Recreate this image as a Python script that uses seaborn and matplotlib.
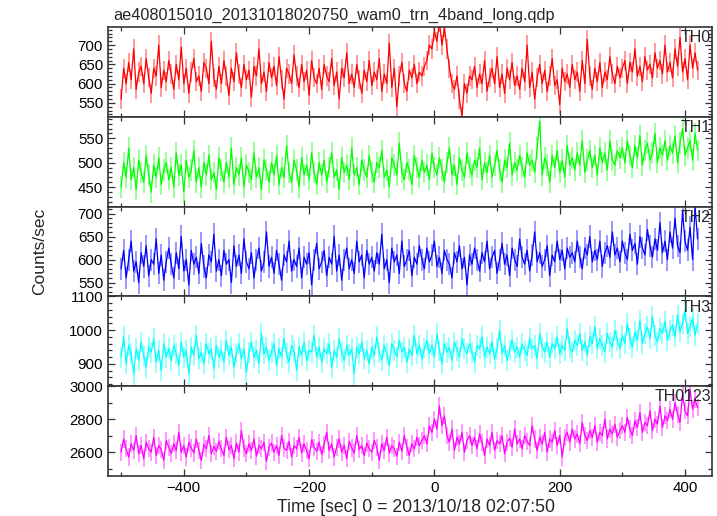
import numpy as np
import matplotlib
matplotlib.use("Agg")
import matplotlib.pyplot as plt
import seaborn as sns
from matplotlib.ticker import MultipleLocator

# light curves, 4 s bins (t = -500 ... 420)
t_start, t_step = -500, 4

th0 = [560, 640, 600, 655, 610, 690, 585, 630, 645, 600, 665, 615, 575, 640, 620, 700, 590, 635, 605, 660,
       625, 585, 650, 610, 695, 600, 640, 575, 630, 665, 605, 620, 580, 655, 640, 600, 710, 615, 585, 645,
       600, 660, 620, 570, 640, 605, 680, 625, 590, 650, 610, 635, 565, 645, 620, 690, 600, 630, 580, 655,
       615, 645, 595, 670, 610, 560, 640, 625, 600, 675, 620, 590, 650, 605, 635, 570, 660, 615, 600, 640,
       585, 650, 620, 605, 665, 595, 630, 560, 640, 615, 680, 600, 625, 590, 650, 610, 575, 635, 605, 660,
       595, 630, 610, 665, 580, 625, 600, 705, 590, 640, 540, 620, 655, 600, 580, 635, 615, 650, 600, 630,
       620, 645, 660, 700, 690, 735, 710, 760, 700, 745, 690, 640, 600, 585, 620, 560, 515, 600, 575, 620,
       610, 645, 590, 625, 600, 660, 580, 615, 640, 600, 670, 590, 625, 575, 640, 610, 655, 595, 620, 585,
       640, 605, 700, 590, 630, 560, 615, 650, 600, 635, 580, 620, 665, 595, 610, 545, 640, 605, 625, 590,
       650, 610, 630, 580, 660, 600, 715, 620, 585, 640, 605, 655, 590, 630, 610, 670, 625, 600, 645, 615,
       640, 660, 600, 655, 630, 690, 620, 645, 605, 670, 635, 650, 615, 680, 640, 660, 625, 700, 630, 655,
       615, 690, 645, 720, 630, 665, 610, 700, 640, 680, 635]

th1 = [450, 500, 470, 530, 465, 490, 445, 505, 480, 460, 515, 475, 440, 495, 470, 510, 455, 485, 500, 465,
       490, 450, 520, 475, 495, 440, 505, 470, 485, 525, 460, 490, 450, 500, 475, 515, 465, 480, 445, 510,
       485, 460, 500, 470, 530, 455, 490, 475, 510, 450, 495, 480, 465, 520, 470, 490, 445, 505, 485, 460,
       500, 475, 515, 455, 490, 470, 535, 480, 460, 505, 485, 450, 510, 475, 495, 465, 520, 480, 455, 500,
       475, 505, 460, 490, 520, 470, 485, 445, 510, 480, 495, 465, 530, 475, 490, 455, 505, 485, 470, 515,
       480, 460, 500, 490, 525, 470, 485, 450, 510, 495, 475, 540, 480, 465, 500, 485, 455, 515, 490, 470,
       505, 480, 495, 465, 520, 490, 475, 510, 485, 460, 500, 530, 475, 495, 455, 510, 485, 470, 520, 490,
       475, 505, 490, 530, 465, 500, 480, 515, 470, 495, 525, 485, 460, 505, 490, 540, 475, 500, 485, 515,
       490, 470, 520, 495, 505, 480, 530, 585, 475, 510, 495, 460, 515, 490, 525, 480, 505, 470, 535, 495,
       510, 485, 520, 495, 545, 480, 505, 525, 490, 515, 475, 530, 500, 520, 485, 545, 505, 495, 525, 510,
       530, 500, 545, 515, 490, 535, 510, 555, 495, 525, 540, 505, 520, 560, 500, 530, 515, 545, 505, 535,
       520, 555, 500, 540, 570, 515, 530, 545, 505, 560, 525]

th2 = [580, 620, 560, 600, 640, 575, 595, 550, 615, 585, 630, 565, 600, 590, 645, 570, 610, 555, 595, 625,
       590, 560, 615, 580, 650, 575, 600, 545, 620, 590, 605, 570, 635, 585, 560, 610, 595, 655, 575, 600,
       565, 620, 590, 600, 550, 630, 585, 610, 570, 645, 595, 580, 615, 560, 600, 625, 575, 595, 660, 585,
       605, 570, 620, 590, 555, 610, 595, 640, 575, 600, 585, 625, 560, 605, 590, 615, 545, 600, 635, 580,
       595, 620, 565, 605, 590, 650, 575, 610, 555, 600, 625, 580, 600, 570, 640, 595, 610, 560, 620, 590,
       605, 575, 615, 590, 655, 580, 600, 550, 625, 595, 610, 570, 640, 585, 600, 620, 565, 605, 590, 630,
       600, 580, 625, 595, 610, 640, 585, 605, 570, 620, 600, 590, 560, 615, 595, 630, 580, 605, 545, 610,
       590, 625, 600, 575, 615, 595, 640, 580, 605, 620, 570, 600, 635, 590, 610, 565, 625, 600, 585, 645,
       605, 590, 620, 575, 610, 660, 595, 615, 585, 600, 630, 565, 610, 595, 640, 600, 620, 580, 625, 605,
       615, 595, 640, 605, 580, 625, 610, 650, 595, 620, 600, 640, 585, 615, 630, 605, 660, 610, 625, 595,
       640, 615, 600, 655, 620, 635, 590, 650, 625, 610, 665, 630, 605, 645, 620, 680, 615, 640, 600, 660,
       625, 690, 630, 615, 705, 640, 620, 670, 600, 715, 645]

th3 = [920, 980, 900, 955, 930, 870, 945, 910, 965, 925, 890, 950, 935, 975, 905, 940, 880, 960, 920, 945,
       910, 955, 930, 895, 965, 920, 940, 870, 950, 925, 985, 915, 935, 900, 960, 930, 945, 885, 955, 920,
       940, 905, 970, 925, 950, 890, 930, 960, 915, 945, 875, 935, 965, 920, 940, 900, 990, 930, 950, 910,
       935, 960, 895, 945, 920, 975, 930, 905, 955, 940, 880, 950, 925, 965, 910, 940, 935, 985, 920, 950,
       905, 945, 930, 960, 890, 940, 920, 975, 935, 910, 955, 925, 945, 870, 950, 930, 965, 915, 940, 900,
       950, 925, 980, 935, 910, 955, 930, 895, 960, 940, 920, 970, 935, 950, 905, 945, 925, 985, 930, 955,
       915, 945, 970, 930, 955, 920, 990, 940, 900, 960, 935, 950, 910, 965, 940, 920, 975, 945, 930, 960,
       935, 905, 955, 945, 980, 920, 950, 930, 965, 915, 945, 1000, 930, 955, 910, 940, 970, 935, 950, 920,
       960, 940, 925, 975, 945, 955, 915, 990, 950, 935, 965, 920, 960, 945, 980, 930, 955, 940, 1005, 950,
       935, 970, 955, 990, 940, 965, 925, 980, 960, 1010, 945, 975, 955, 935, 990, 965, 950, 1000, 970, 945,
       985, 960, 1020, 975, 950, 995, 970, 1030, 960, 990, 1010, 975, 1040, 985, 965, 1005, 990, 1025, 970, 1000,
       1015, 980, 1045, 995, 1020, 1060, 990, 1010, 1035, 985, 1020]

th0123 = [2600, 2680, 2620, 2570, 2650, 2610, 2700, 2590, 2640, 2560, 2660, 2620, 2600, 2690, 2580, 2640, 2615, 2550, 2670, 2630,
          2590, 2650, 2610, 2720, 2600, 2640, 2570, 2660, 2625, 2595, 2680, 2610, 2550, 2645, 2620, 2700, 2590, 2635, 2605, 2665,
          2620, 2580, 2690, 2615, 2640, 2560, 2655, 2600, 2730, 2625, 2590, 2650, 2610, 2680, 2575, 2640, 2620, 2660, 2545, 2630,
          2655, 2600, 2640, 2580, 2700, 2625, 2610, 2665, 2570, 2640, 2620, 2690, 2595, 2650, 2610, 2560, 2675, 2630, 2605, 2660,
          2585, 2645, 2720, 2610, 2650, 2570, 2630, 2680, 2600, 2640, 2560, 2665, 2625, 2595, 2700, 2615, 2640, 2580, 2655, 2620,
          2600, 2670, 2630, 2550, 2650, 2610, 2690, 2595, 2640, 2620, 2575, 2660, 2605, 2700, 2630, 2580, 2650, 2620, 2690, 2640,
          2670, 2700, 2650, 2760, 2720, 2800, 2740, 2880, 2760, 2820, 2700, 2660, 2740, 2610, 2690, 2650, 2720, 2600, 2670, 2700,
          2640, 2690, 2620, 2710, 2660, 2580, 2680, 2640, 2720, 2610, 2670, 2650, 2700, 2590, 2660, 2685, 2630, 2740, 2650, 2680,
          2620, 2700, 2665, 2640, 2760, 2680, 2610, 2690, 2650, 2720, 2600, 2680, 2660, 2730, 2640, 2700, 2570, 2690, 2720, 2660,
          2740, 2680, 2710, 2650, 2780, 2700, 2670, 2730, 2690, 2760, 2660, 2720, 2700, 2800, 2680, 2740, 2710, 2770, 2690, 2730,
          2760, 2720, 2810, 2740, 2700, 2790, 2750, 2840, 2720, 2780, 2760, 2850, 2730, 2800, 2770, 2880, 2750, 2820, 2790, 2860,
          2800, 2900, 2830, 2780, 2950, 2850, 2820, 2980, 2860, 2920, 2870]

bands = ['TH0', 'TH1', 'TH2', 'TH3', 'TH0123']
series = [th0, th1, th2, th3, th0123]
errors = [25, 22, 24, 31, 52]
colors = ['#ff0000', '#00ff00', '#0000ff', '#00ffff', '#ff00ff']
ylims = [(514, 747), (410, 594), (520, 715), (834, 1100), (2455, 3000)]
majors = [50, 50, 50, 100, 200]
minors = [10, 10, 10, 20, 100]

sns.set_style('ticks')
plt.rcParams['font.family'] = ['Liberation Sans', 'DejaVu Sans']

fig, axes = plt.subplots(5, 1, figsize=(7.17, 5.16), dpi=100, sharex=True)
fig.subplots_adjust(left=0.1506, right=0.993, top=0.9477, bottom=0.0775, hspace=0)

t = np.arange(t_start, t_start + t_step * len(th0), t_step)

for ax, name, y, err, c, yl, mj, mn in zip(axes, bands, series, errors, colors, ylims, majors, minors):
    y = np.array(y, dtype=float)
    # error bars, lighter shade
    ax.vlines(t, y - err, y + err, color=c, alpha=0.4, lw=1.4)
    sns.lineplot(x=t, y=y, ax=ax, color=c, lw=0.9, estimator=None)
    ax.set_ylim(*yl)
    ax.set_xlim(-521, 443)
    ax.yaxis.set_major_locator(MultipleLocator(mj))
    ax.yaxis.set_minor_locator(MultipleLocator(mn))
    ax.xaxis.set_major_locator(MultipleLocator(200))
    ax.xaxis.set_minor_locator(MultipleLocator(100))
    ax.tick_params(which='both', direction='in', top=True, right=True, labelsize=10.8,
                   colors='#333333', labelcolor='black', width=0.9)
    ax.tick_params(which='major', length=5)
    ax.tick_params(which='minor', length=3)
    for s in ax.spines.values():
        s.set_color('#333333')
        s.set_linewidth(1.2)
    ax.set_ylabel('')
    ax.text(0.998, 0.88, name, transform=ax.transAxes, ha='right', va='center', fontsize=11.5)

axes[-1].set_xlabel('')
fig.text(113 / 717, 1 - 15 / 516, 'ae408015010_20131018020750_wam0_trn_4band_long.qdp',
         ha='left', va='center', fontsize=11.7)
fig.text(40 / 717, 0.512, 'Counts/sec', rotation=90, ha='center', va='center', fontsize=12.5)
fig.text(416 / 717, 1 - 508 / 516, 'Time [sec] 0 = 2013/10/18 02:07:50', ha='center', va='center', fontsize=12.7)

fig.savefig('out.png', dpi=100)
